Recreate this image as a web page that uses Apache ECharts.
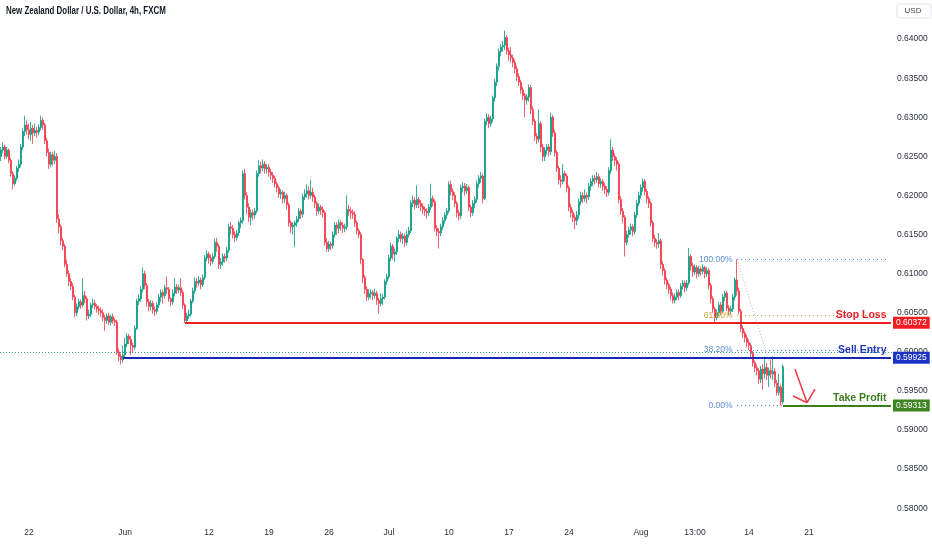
<!DOCTYPE html>
<html><head><meta charset="utf-8">
<script src="https://cdn.jsdelivr.net/npm/echarts@6/dist/echarts.min.js"></script>
<style>html,body{margin:0;padding:0;background:#fff}#c{width:932px;height:550px}</style>
</head><body><div id="c"></div>
<script>
// prices in pips (1e-4), each bar = [open, close, low, high]
const PIP = 10000;
const mayBars = [
[6250,6258,6244,6262],[6258,6262,6254,6268],
[6262,6250,6246,6265],[6250,6258,6247,6262],[6258,6245,6241,6260],[6245,6228,6224,6248],[6228,6215,6208,6231],[6215,6222,6212,6226],
[6222,6235,6219,6238],[6235,6240,6230,6246],[6240,6262,6236,6266],[6262,6282,6258,6286],[6282,6290,6276,6302],[6290,6284,6278,6296],
[6284,6278,6272,6292],[6278,6286,6270,6294],[6286,6280,6266,6290],[6280,6283,6276,6292],[6283,6281,6274,6288],[6281,6287,6277,6291],
[6287,6296,6283,6302],[6296,6290,6284,6300],[6290,6270,6266,6293],[6270,6255,6250,6274],[6255,6240,6234,6260],[6240,6252,6236,6256],
[6252,6245,6238,6256],[6245,6250,6240,6257],[6250,6170,6165,6254],[6170,6160,6152,6176],[6160,6142,6136,6163],[6142,6135,6130,6146],
[6135,6112,6108,6138],[6112,6100,6096,6118],[6100,6090,6084,6104],[6090,6084,6079,6094],[6084,6070,6066,6088],[6070,6050,6044,6073],
[6050,6058,6046,6062],[6058,6064,6054,6068],[6064,6060,6055,6067],[6060,6072,6057,6094],[6072,6068,6062,6078],[6068,6046,6040,6071],
[6046,6048,6042,6054],[6048,6060,6045,6063],[6060,6062,6056,6068],[6062,6058,6054,6066],[6058,6055,6050,6061],[6055,6053,6047,6059],
[6053,6050,6045,6057],[6050,6044,6039,6054],[6044,6040,6027,6047],[6040,6046,6036,6049],[6046,6038,6034,6050],[6038,6045,6034,6048],
[6045,6040,6036,6049],[6040,6038,6033,6043],[6038,6000,5996,6041],[6000,5994,5988,6004],[5994,5990,5984,5998],[5990,5996,5986,6008]
];
const junBars = [
[5996,6010,5992,6018],[6010,6020,6006,6024],[6020,6016,6010,6023],[6016,6008,5996,6020],[6008,6006,5998,6012],[6006,6030,6003,6034],
[6030,6065,6028,6068],[6065,6068,6060,6074],[6068,6080,6064,6084],[6080,6100,6076,6108],[6100,6085,6080,6104],[6085,6064,6058,6088],
[6064,6058,6052,6068],[6058,6062,6053,6066],[6062,6054,6049,6065],[6054,6052,6046,6058],[6052,6060,6048,6063],[6060,6070,6056,6074],
[6070,6076,6064,6080],[6076,6072,6062,6079],[6072,6082,6068,6086],[6082,6080,6074,6096],[6080,6068,6064,6083],[6068,6064,6058,6070],
[6064,6075,6060,6080],[6075,6083,6071,6094],[6083,6079,6074,6087],[6079,6082,6075,6086],[6082,6076,6071,6094],[6076,6060,6055,6079],
[6060,6040,6037,6062],[6040,6046,6037,6050],[6046,6048,6042,6054],[6048,6065,6045,6068],[6065,6078,6062,6082],[6078,6090,6074,6095],
[6090,6088,6082,6094],[6088,6092,6084,6097],[6092,6086,6080,6095],[6086,6095,6083,6099],[6095,6120,6092,6124],[6120,6125,6116,6130],
[6125,6120,6113,6128],[6120,6116,6110,6124],[6116,6122,6112,6126],[6122,6140,6119,6145],[6140,6135,6128,6146],[6135,6112,6106,6138],
[6112,6115,6106,6120],[6115,6122,6110,6126],[6122,6120,6114,6126],[6120,6130,6116,6134],[6130,6160,6127,6164],[6160,6158,6150,6166],
[6158,6150,6145,6162],[6150,6146,6140,6154],[6146,6152,6142,6156],[6152,6165,6148,6168],[6165,6168,6158,6172],[6168,6228,6164,6232],
[6228,6200,6195,6234],[6200,6185,6176,6204],[6185,6172,6166,6190],[6172,6178,6162,6182],[6178,6175,6168,6182],[6175,6180,6170,6184],
[6180,6228,6177,6232],[6228,6238,6224,6245],[6238,6235,6228,6243],[6235,6240,6231,6246],[6240,6234,6228,6244],[6234,6236,6228,6240],
[6236,6230,6224,6240],[6230,6226,6220,6234],[6226,6222,6216,6230],[6222,6215,6210,6225],[6215,6210,6204,6218],[6210,6202,6197,6213],
[6202,6204,6196,6208],[6204,6196,6190,6207],[6196,6200,6190,6205],[6200,6188,6182,6203],[6188,6165,6160,6191],[6165,6160,6152,6168],
[6160,6162,6150,6166],[6162,6165,6134,6168],[6165,6170,6160,6174],[6170,6180,6166,6184],[6180,6176,6170,6183],[6176,6198,6172,6202],
[6198,6202,6194,6208],[6202,6206,6197,6214],[6206,6200,6195,6212],[6200,6204,6196,6220],[6204,6198,6192,6210],[6198,6190,6184,6201],
[6190,6180,6174,6193],[6180,6185,6176,6190],[6185,6182,6175,6188],[6182,6178,6172,6186],[6178,6140,6136,6181],[6140,6132,6128,6145],
[6132,6138,6128,6142],[6138,6136,6130,6141],[6136,6150,6132,6154],[6150,6162,6146,6166],[6162,6158,6150,6166],[6158,6165,6152,6169],
[6165,6162,6155,6168],[6162,6158,6152,6166],[6158,6160,6153,6164],[6160,6182,6156,6200],[6182,6180,6174,6188],[6180,6178,6170,6185],
[6178,6176,6170,6182],[6176,6165,6160,6180],[6165,6155,6150,6168],[6155,6150,6145,6158],[6150,6118,6112,6153],[6118,6095,6088,6120],
[6095,6080,6074,6098],[6080,6070,6065,6084],[6070,6074,6066,6080],[6074,6076,6068,6080],[6076,6072,6066,6079],[6072,6075,6068,6081],
[6075,6066,6060,6078],[6066,6062,6049,6069],[6062,6068,6058,6075],[6068,6070,6060,6074],[6070,6090,6067,6093],[6090,6096,6086,6100]
];
const julBars = [
[6096,6120,6093,6124],[6120,6135,6116,6140],[6135,6125,6118,6138],[6125,6128,6115,6132],[6128,6145,6124,6148],[6145,6150,6140,6156],
[6150,6145,6140,6154],[6145,6148,6138,6152],[6148,6140,6134,6151],[6140,6150,6136,6155],[6150,6155,6146,6160],[6155,6190,6152,6194],
[6190,6194,6185,6200],[6194,6188,6182,6198],[6188,6195,6184,6213],[6195,6190,6184,6198],[6190,6186,6180,6194],[6186,6182,6176,6190],
[6182,6180,6174,6186],[6180,6178,6170,6184],[6178,6185,6174,6189],[6185,6196,6181,6215],[6196,6192,6186,6200],[6192,6158,6154,6195],
[6158,6154,6148,6162],[6154,6152,6132,6158],[6152,6160,6148,6164],[6160,6168,6156,6172],[6168,6175,6164,6179],[6175,6180,6170,6184],
[6180,6214,6177,6218],[6214,6205,6200,6219],[6205,6200,6194,6209],[6200,6190,6185,6204],[6190,6178,6172,6193],[6178,6174,6168,6182],
[6174,6210,6170,6214],[6210,6212,6204,6217],[6212,6206,6200,6216],[6206,6210,6202,6215],[6210,6185,6180,6213],[6185,6178,6172,6188],
[6178,6190,6174,6194],[6190,6195,6184,6199],[6195,6215,6191,6219],[6215,6222,6210,6226],[6222,6225,6216,6230],[6225,6196,6190,6228],
[6196,6295,6194,6298],[6295,6300,6290,6305],[6300,6292,6286,6304],[6292,6298,6288,6302],[6298,6325,6294,6328],[6325,6345,6320,6349],
[6345,6365,6340,6369],[6365,6384,6360,6388],[6384,6390,6378,6394],[6390,6392,6384,6398],[6392,6402,6386,6411],[6402,6385,6380,6405],
[6385,6380,6372,6389],[6380,6376,6370,6390],[6376,6370,6364,6380],[6370,6362,6356,6374],[6362,6352,6346,6366],[6352,6345,6340,6356],
[6345,6335,6330,6348],[6335,6328,6322,6339],[6328,6322,6300,6331],[6322,6326,6316,6330],[6326,6338,6320,6342],[6338,6310,6304,6341],
[6310,6295,6290,6314],[6295,6276,6270,6298],[6276,6272,6266,6280],[6272,6292,6268,6310],[6292,6262,6256,6295],[6262,6250,6244,6266],
[6250,6258,6244,6262],[6258,6262,6252,6266],[6262,6256,6250,6266],[6256,6300,6252,6306],[6300,6280,6275,6303],[6280,6255,6250,6284],
[6255,6235,6230,6258],[6235,6220,6214,6238],[6220,6218,6210,6226],[6218,6228,6214,6240],[6228,6225,6218,6232],[6225,6210,6204,6228],
[6210,6185,6180,6213],[6185,6178,6172,6189],[6178,6172,6166,6182],[6172,6168,6157,6176],[6168,6175,6162,6180],[6175,6192,6170,6196],
[6192,6200,6188,6205],[6200,6196,6190,6204],[6196,6200,6192,6208],[6200,6198,6190,6204],[6198,6212,6194,6216],[6212,6218,6206,6222],
[6218,6222,6212,6226],[6222,6220,6214,6226],[6220,6224,6216,6230],[6224,6215,6210,6228],[6215,6218,6210,6222],[6218,6212,6206,6221],
[6212,6208,6202,6216],[6208,6204,6198,6212],[6204,6232,6200,6236],[6232,6258,6228,6272],[6258,6250,6244,6262],[6250,6245,6238,6254],
[6245,6240,6232,6249],[6240,6195,6190,6243],[6195,6180,6175,6199],[6180,6172,6165,6184],[6172,6140,6122,6175],[6140,6150,6136,6155],
[6150,6156,6146,6160],[6156,6160,6150,6164],[6160,6154,6148,6163],[6154,6175,6150,6179],[6175,6190,6171,6194],[6190,6200,6186,6205]
];
const augBars = [
[6200,6210,6196,6214],[6210,6218,6205,6222],[6218,6205,6200,6221],[6205,6196,6190,6208],[6196,6190,6184,6199],[6190,6165,6160,6193],
[6165,6145,6140,6168],[6145,6140,6134,6150],[6140,6138,6132,6144],[6138,6142,6133,6152],[6142,6112,6106,6145],[6112,6104,6098,6116],
[6104,6092,6086,6107],[6092,6086,6080,6095],[6086,6080,6074,6089],[6080,6072,6066,6083],[6072,6066,6062,6076],[6066,6070,6062,6075],
[6070,6076,6066,6080],[6076,6072,6066,6080],[6072,6084,6069,6088],[6084,6088,6080,6092],[6088,6082,6076,6091],[6082,6088,6078,6092],
[6088,6122,6085,6133],[6122,6110,6104,6125],[6110,6102,6096,6114],[6102,6108,6098,6112],[6108,6100,6094,6111],[6100,6106,6096,6110],
[6106,6103,6097,6109],[6103,6108,6099,6112],[6108,6100,6094,6110],[6100,6104,6096,6108],[6104,6085,6080,6107],[6085,6068,6062,6088],
[6068,6055,6050,6071],[6055,6044,6036,6058],[6044,6050,6040,6054],[6050,6060,6046,6064],[6060,6052,6047,6064],[6052,6070,6049,6074],
[6070,6075,6065,6078],[6075,6056,6052,6078],[6056,6052,6047,6060],[6052,6055,6048,6059],[6055,6070,6051,6074],[6070,6092,6066,6095],
[6092,6078,6072,6118],[6078,6052,6048,6082],[6052,6030,6025,6055],[6030,6024,6018,6034],[6024,6018,6012,6027],[6018,6012,6006,6022],
[6012,6008,6002,6016],[6008,5998,5993,6011],[5998,5986,5981,6001],[5986,5980,5974,5989],[5980,5976,5970,5984],[5976,5965,5959,5979],
[5965,5978,5960,5982],[5978,5972,5952,5984],[5972,5980,5966,5994],[5980,5970,5964,5986],[5970,5976,5955,5980],[5976,5972,5966,5990],
[5972,5975,5964,5994],[5975,5960,5955,5979],[5960,5948,5944,5964],[5948,5955,5944,5972],[5955,5936,5931.3,5958],[5936,5981,5933,5984]
];
const barHours = ['01:00','05:00','09:00','13:00','17:00','21:00'];
const xTicks = [['2023-05-22 01:00','22'],['2023-06-01 01:00','Jun'],['2023-06-12 01:00','12'],['2023-06-19 01:00','19'],
 ['2023-06-26 01:00','26'],['2023-07-03 01:00','Jul'],['2023-07-10 01:00','10'],['2023-07-17 01:00','17'],['2023-07-24 01:00','24'],
 ['2023-08-01 01:00','Aug'],['2023-08-07 13:00','13:00'],['2023-08-14 01:00','14'],['2023-08-21 01:00','21']];
const levels = { stopLoss: 0.60372, sellEntry: 0.59925, takeProfit: 0.59313 };
const fibHigh = 0.6118, fibLow = 0.59313;
const fibRatios = [1, 0.618, 0.382, 0];
const fibNames = ['100.00%', '61.80%', '38.20%', '0.00%'];

const TOTAL_SLOTS = 446;
const categories = [];
(function () {
  let t = Date.UTC(2023, 4, 17), first = true;
  while (categories.length < TOTAL_SLOTS) {
    const d = new Date(t), wd = d.getUTCDay();
    if (wd !== 0 && wd !== 6) {
      const ds = d.toISOString().slice(0, 10);
      (first ? barHours.slice(4) : barHours).forEach(h => { if (categories.length < TOTAL_SLOTS) categories.push(ds + ' ' + h); });
      first = false;
    }
    t += 86400000;
  }
})();
const tickMap = {}; xTicks.forEach(([k, v]) => tickMap[k] = v);
const bars = [].concat(mayBars, junBars, julBars, augBars).map(b => b.map(v => v / PIP));
const lastClose = bars[bars.length - 1][1];
const idx = s => categories.indexOf(s);

const FONT = "'Liberation Sans',Arial,sans-serif";
const UP = '#089981', DOWN = '#f23645';
const RED = '#f01e23', BLUE = '#1428b4', GREEN = '#3b7d1f', FIBBLUE = '#5a8fd0', FIBGOLD = '#c9a43c';
const edge = TOTAL_SLOTS - 1;
const fibStart = idx('2023-08-11 01:00');
const lastIdx = bars.length - 1;
const fibPrice = r => fibLow + (fibHigh - fibLow) * r;

function hLine(x0, x1, y, ls, label) {
  return [{ coord: [x0, y], lineStyle: ls, label: label || { show: false } }, { coord: [x1, y] }];
}
function boxLabel(txt, bg) {
  return { show: true, position: 'end', distance: 2, formatter: txt, color: '#fff', backgroundColor: bg,
    padding: [2, 3, 1, 3], fontSize: 8.5, fontFamily: FONT };
}
const markLines = [
  { yAxis: lastClose, lineStyle: { color: '#3aa89a', type: [1, 2], width: 1 }, label: { show: false } },
  hLine(fibStart, edge - 1, fibPrice(1), { color: FIBBLUE, type: [1, 3], width: 1 }),
  hLine(fibStart, edge - 1, fibPrice(0.618), { color: FIBGOLD, type: [1, 3], width: 1 }),
  hLine(fibStart, edge - 1, fibPrice(0.382), { color: FIBBLUE, type: [1, 3], width: 1 }),
  hLine(fibStart, lastIdx, fibPrice(0), { color: FIBBLUE, type: [1, 3], width: 1 }),
  [{ coord: [fibStart, fibHigh], lineStyle: { color: '#b0b3bb', type: [1, 2], width: 1 }, label: { show: false } }, { coord: [lastIdx, fibLow] }],
  hLine(idx('2023-06-08 01:00'), edge, levels.stopLoss, { color: RED, type: 'solid', width: 2 }, boxLabel('0.60372', RED)),
  hLine(idx('2023-05-31 21:00'), edge, levels.sellEntry, { color: BLUE, type: 'solid', width: 2 }, boxLabel('0.59925', '#1a33c4')),
  hLine(lastIdx, edge, levels.takeProfit, { color: GREEN, type: 'solid', width: 2 }, boxLabel('0.59313', '#3f8422')),
  [{ coord: [397, 0.59776], lineStyle: { color: DOWN, width: 1.5, type: 'solid' }, label: { show: false } }, { coord: [403, 0.59351] }],
  [{ coord: [407, 0.59522], lineStyle: { color: DOWN, width: 1.5, type: 'solid' }, label: { show: false } }, { coord: [403, 0.59351] }],
  [{ coord: [396, 0.59436], lineStyle: { color: DOWN, width: 1.5, type: 'solid' }, label: { show: false } }, { coord: [403, 0.59351] }]
];
function txt(x, y, s, color, size, weight) {
  return { coord: [x, y], value: s, symbol: 'circle', symbolSize: 1, itemStyle: { color: 'rgba(0,0,0,0)' },
    label: { show: true, position: 'left', distance: 0, formatter: s, color: color, fontSize: size, fontWeight: weight, fontFamily: FONT } };
}
const markPoints = [
  txt(edge - 2, fibPrice(0.618), 'Stop Loss', '#e8202a', 10.5, 'bold'),
  txt(edge - 2, fibPrice(0.382), 'Sell Entry', '#2236c0', 10.5, 'bold'),
  txt(edge - 2, 0.5941, 'Take Profit', '#3b7d1f', 10.5, 'bold')
].concat(fibRatios.map((r, i) => txt(fibStart - 2, fibPrice(r), fibNames[i], r === 0.618 ? FIBGOLD : FIBBLUE, 8.5, 'normal')));

const chart = echarts.init(document.getElementById('c'), null, { renderer: 'canvas' });
chart.setOption({
  animation: false,
  backgroundColor: '#fff',
  grid: { left: 0, right: 40, top: -3.33, bottom: 2.67 },
  xAxis: {
    type: 'category', data: categories, boundaryGap: true, offset: -22,
    axisLine: { show: false }, axisTick: { show: false }, splitLine: { show: false },
    axisLabel: { interval: (i, v) => tickMap[v] !== undefined, formatter: v => tickMap[v] || '', margin: 3,
      fontSize: 8.5, color: '#2a2e39', fontFamily: FONT }
  },
  yAxis: {
    type: 'value', position: 'right', min: 0.575, max: 0.645, interval: 0.005, scale: true,
    axisLine: { show: false }, axisTick: { show: false }, splitLine: { show: false },
    axisLabel: { margin: 5, fontSize: 8.5, color: '#2a2e39', fontFamily: FONT,
      formatter: v => (v < 0.5775 || v > 0.6425) ? '' : v.toFixed(5) }
  },
  graphic: [
    { type: 'text', left: 6, top: 5, scaleX: 0.72, style: { text: 'New Zealand Dollar / U.S. Dollar, 4h, FXCM', fontSize: 11, fontWeight: 'bold', fill: '#131722', fontFamily: FONT } },
    { type: 'rect', shape: { x: 897, y: 4, width: 34, height: 14, r: 2 }, style: { fill: '#fff', stroke: '#e0e3eb', lineWidth: 1 } },
    { type: 'text', style: { text: 'USD', x: 913, y: 11, align: 'center', verticalAlign: 'middle', fontSize: 8, fill: '#434651', fontFamily: FONT } }
  ],
  series: [{
    type: 'candlestick', data: bars, barWidth: 2,
    itemStyle: { color: UP, color0: DOWN, borderColor: UP, borderColor0: DOWN, borderWidth: 0.8 },
    markLine: { silent: true, symbol: ['none', 'none'], animation: false, data: markLines },
    markPoint: { silent: true, animation: false, data: markPoints }
  }]
});
</script></body></html>
